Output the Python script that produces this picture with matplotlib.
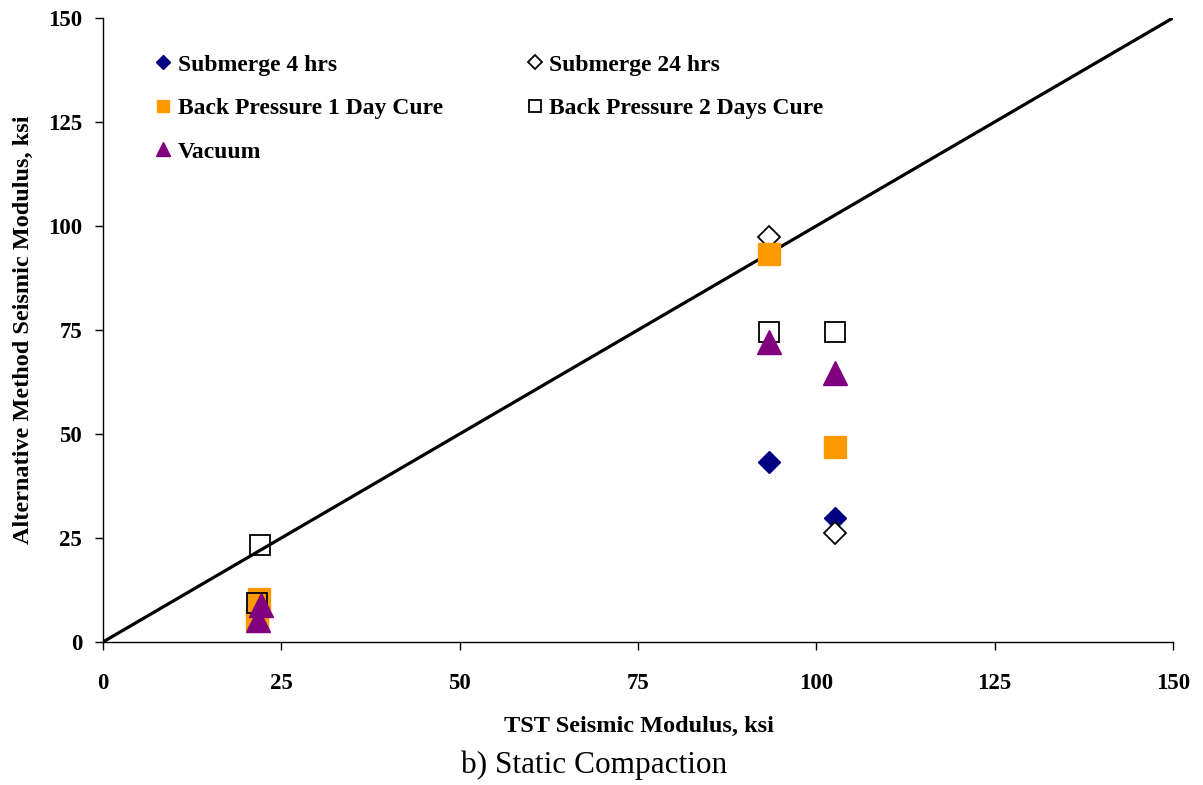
import matplotlib
matplotlib.use("Agg")
import matplotlib.pyplot as plt

plt.rcParams['font.family'] = ['Liberation Serif', 'DejaVu Serif']
plt.rcParams['font.weight'] = 'bold'

# data (TST modulus vs alternative method modulus, ksi)
sub4_x = [93.4, 102.6]
sub4_y = [43.3, 29.9]
sub24_x = [93.4, 102.6]
sub24_y = [97.4, 26.1]
bp1_x = [21.9, 21.6, 93.4, 102.6]
bp1_y = [10.4, 5.6, 93.3, 46.9]
bp2_x = [22.0, 21.6, 93.4, 102.6]
bp2_y = [23.3, 9.4, 74.6, 74.6]
vac_x = [22.2, 21.8, 93.4, 102.6]
vac_y = [9.0, 5.4, 72.0, 64.7]

line_xy = [0, 150]
ticks = [0, 25, 50, 75, 100, 125, 150]

fig = plt.figure(figsize=(12.03, 7.85), dpi=100)
ax = fig.add_axes([0.0856, 0.1822, 0.8894, 0.7949])

ax.plot(line_xy, line_xy, color='black', lw=2.3, zorder=1)

h_sub4, = ax.plot(sub4_x, sub4_y, 'D', ms=11.5, color='#000080', ls='none', label='Submerge 4 hrs')
h_sub24, = ax.plot(sub24_x, sub24_y, 'D', ms=11.5, mfc='white', mec='black', mew=1.3, ls='none',
                   label='Submerge 24 hrs')
h_bp1, = ax.plot(bp1_x, bp1_y, 's', ms=15.5, color='#FF9900', ls='none', label='Back Pressure 1 Day Cure')
h_bp2, = ax.plot(bp2_x, bp2_y, 's', ms=15, mfc='none', mec='black', mew=1.3, ls='none',
                 label='Back Pressure 2 Days Cure')
h_vac, = ax.plot(vac_x, vac_y, '^', ms=17, color='#800080', ls='none', label='Vacuum')

ax.set_xlim(0, 150)
ax.set_ylim(0, 150)
ax.set_xticks(ticks)
ax.set_yticks(ticks)
for s in ['top', 'right']:
    ax.spines[s].set_visible(False)
for s in ['left', 'bottom']:
    ax.spines[s].set_linewidth(1.0)
ax.tick_params(axis='x', direction='out', length=6, width=1, pad=16, labelsize=16.5)
ax.tick_params(axis='y', direction='out', length=6, width=1, pad=9, labelsize=16.5)
for lab in ax.get_xticklabels() + ax.get_yticklabels():
    lab.set_fontweight('bold')

ax.set_ylabel('Alternative Method Seismic Modulus, ksi', fontsize=17.5, fontweight='bold', labelpad=10)

fig.text(0.531, 1 - 726 / 785, 'TST Seismic Modulus, ksi', ha='center', va='center',
         fontsize=17.5, fontweight='bold')
fig.text(0.494, 1 - 765 / 785, 'b) Static Compaction', ha='center', va='center',
         fontsize=22.5, fontweight='normal')

leg = ax.legend(handles=[h_sub4, h_bp1, h_vac, h_sub24, h_bp2], ncol=2, frameon=False,
                loc='upper left', bbox_to_anchor=(0.030, 0.976), markerscale=0.6,
                handlelength=0.6, handletextpad=0.3, columnspacing=3.6, labelspacing=0.93,
                prop={'size': 17, 'weight': 'bold'})

fig.savefig('out.png', dpi=100)
